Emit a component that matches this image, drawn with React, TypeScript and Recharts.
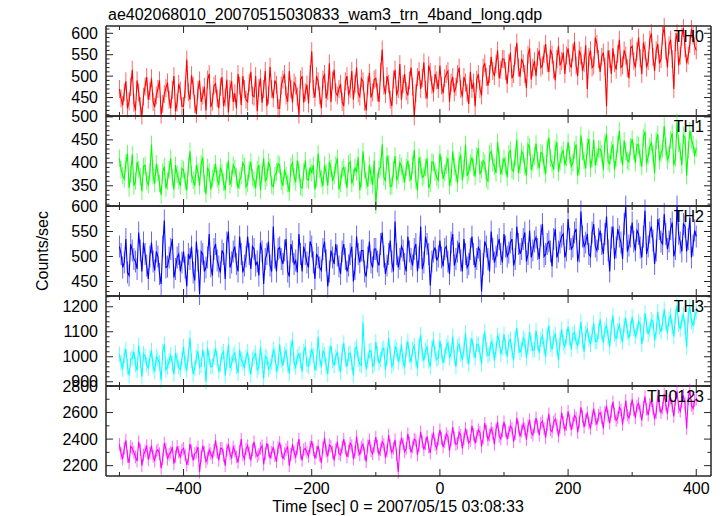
import React from "react";
import { LineChart, Line, XAxis, YAxis, ReferenceLine, ErrorBar } from "recharts";

const W = 723;
const H = 516;
const PLOT_LEFT = 106;
const PLOT_RIGHT = 711;
const PANEL_TOP = 26;
const PANEL_H = 90;
const X_AXIS_H = 30;
const FONT = "'Liberation Sans', Arial, Helvetica, sans-serif";
const FRAME = "#262626";

const TITLE = "ae402068010_20070515030833_wam3_trn_4band_long.qdp";
const X_LABEL = "Time [sec] 0 = 2007/05/15 03:08:33";
const Y_LABEL = "Counts/sec";

// bins start at -500 s, 5 s apart; the *_MID arrays hold the samples 2.5 s later
const TIME = Array.from({ length: 181 }, (_, i) => -500 + 5 * i);
const MID_OFFSET = 2.5;
const X_DOMAIN: [number, number] = [-521, 423];
const X_MAJOR = [-400, -200, 0, 200, 400];
const X_MINOR = [-500, -300, -100, 100, 300];

const TH0 = [
  470, 432, 488, 441, 515, 420, 462, 408, 476, 445,
  495, 428, 470, 410, 458, 485, 425, 500, 438, 466,
  430, 539, 445, 478, 412, 490, 455, 420, 505, 440,
  482, 425, 498, 450, 415, 488, 460, 505, 432, 470,
  440, 510, 452, 418, 495, 470, 430, 522, 448, 480,
  425, 492, 455, 512, 438, 478, 410, 500, 462, 436,
  558, 450, 488, 425, 505, 465, 440, 515, 455, 482,
  430, 500, 470, 445, 520, 452, 488, 420, 508, 462,
  495, 440, 562, 458, 482, 430, 515, 470, 445, 505,
  455, 520, 406, 498, 470, 532, 448, 510, 462, 490,
  525, 460, 505, 440, 498, 475, 520, 452, 485, 435,
  470, 430, 505, 455, 530, 478, 545, 500, 560, 515,
  540, 482, 555, 505, 578, 498, 530, 472, 565, 520,
  500, 560, 525, 575, 510, 550, 490, 570, 535, 505,
  565, 520, 580, 500, 548, 530, 470, 560, 525, 575,
  510, 555, 430, 540, 565, 515, 585, 525, 548, 495,
  570, 520, 590, 505, 560, 535, 600, 512, 575, 540,
  615, 520, 585, 470, 600, 548, 612, 530, 575, 595,
  560,
];
const TH0_MID = [
  448, 462, 425, 475, 438, 490, 430, 452, 498, 465,
  440, 455, 490, 435, 472, 445, 468, 418, 482, 430,
  470, 462, 502, 435, 468, 440, 475, 492, 428, 478,
  448, 475, 430, 492, 470, 440, 425, 478, 500, 445,
  485, 455, 500, 472, 438, 512, 455, 470, 490, 425,
  478, 505, 440, 470, 485, 452, 492, 438, 480, 505,
  470, 500, 455, 492, 448, 530, 490, 462, 470, 440,
  488, 455, 512, 482, 460, 495, 440, 478, 450, 492,
  462, 510, 478, 500, 445, 492, 455, 528, 482, 465,
  490, 475, 460, 512, 495, 468, 525, 480, 505, 470,
  478, 495, 512, 485, 462, 505, 470, 498, 460, 510,
  485, 492, 470, 520, 498, 505, 512, 528, 495, 540,
  512, 530, 495, 548, 520, 540, 505, 550, 492, 535,
  545, 520, 552, 530, 562, 515, 540, 525, 555, 548,
  530, 555, 525, 560, 512, 572, 545, 520, 590, 540,
  545, 522, 560, 505, 530, 552, 520, 560, 518, 565,
  535, 558, 542, 578, 520, 585, 545, 560, 530, 595,
  560, 572, 540, 580, 525, 592, 565, 548, 610, 570,
];

const TH1 = [
  410, 372, 400, 345, 418, 360, 385, 338, 395, 352,
  440, 355, 378, 330, 392, 360, 410, 342, 375, 350,
  385, 340, 425, 362, 395, 350, 412, 332, 380, 365,
  398, 352, 378, 340, 405, 366, 388, 345, 372, 392,
  355, 402, 362, 385, 340, 410, 368, 390, 348, 380,
  395, 350, 372, 336, 400, 358, 385, 345, 405, 362,
  378, 342, 420, 365, 395, 350, 388, 372, 410, 355,
  390, 345, 402, 368, 380, 340, 425, 362, 395, 352,
  308, 385, 440, 360, 398, 350, 415, 372, 392, 358,
  405, 362, 428, 340, 395, 372, 410, 355, 400, 368,
  420, 365, 395, 350, 425, 378, 405, 362, 440, 380,
  412, 370, 432, 385, 400, 360, 425, 392, 445, 375,
  410, 368, 428, 382, 450, 395, 418, 372, 435, 400,
  442, 388, 420, 375, 455, 398, 430, 380, 418, 395,
  445, 392, 428, 372, 460, 405, 435, 388, 450, 412,
  430, 385, 462, 398, 440, 410, 470, 395, 425, 402,
  452, 400, 438, 392, 468, 415, 445, 378, 462, 420,
  480, 405, 450, 395, 488, 425, 460, 372, 470, 440,
  432,
];
const TH1_MID = [
  385, 365, 420, 375, 350, 402, 370, 392, 360, 380,
  372, 398, 355, 380, 345, 385, 368, 395, 362, 388,
  360, 392, 375, 350, 380, 398, 355, 390, 342, 378,
  365, 390, 358, 382, 352, 395, 370, 362, 400, 348,
  385, 368, 345, 395, 378, 360, 402, 352, 372, 398,
  360, 385, 355, 392, 370, 405, 348, 380, 365, 390,
  395, 365, 385, 350, 378, 402, 360, 395, 342, 385,
  372, 398, 355, 390, 412, 365, 385, 348, 372, 405,
  360, 392, 370, 415, 348, 385, 362, 400, 375, 390,
  378, 395, 362, 412, 368, 390, 345, 402, 380, 362,
  395, 378, 410, 368, 392, 355, 418, 388, 372, 400,
  390, 415, 375, 405, 365, 420, 400, 378, 410, 392,
  395, 420, 385, 412, 378, 425, 392, 440, 385, 415,
  405, 422, 395, 432, 410, 385, 445, 402, 428, 412,
  418, 400, 440, 392, 425, 388, 452, 410, 395, 430,
  420, 445, 402, 428, 385, 440, 418, 448, 405, 435,
  425, 440, 410, 455, 398, 435, 420, 448, 405, 430,
  435, 418, 465, 410, 442, 395, 455, 428, 450, 415,
];

const TH2 = [
  520, 478, 535, 462, 512, 490, 548, 470, 505, 455,
  528, 472, 500, 445, 572, 480, 515, 458, 498, 470,
  510, 440, 495, 468, 530, 425, 505, 478, 545, 462,
  525, 480, 512, 455, 550, 488, 520, 470, 505, 482,
  540, 475, 515, 490, 528, 445, 505, 482, 560, 470,
  518, 485, 535, 460, 510, 492, 545, 470, 505, 478,
  520, 455, 498, 472, 530, 440, 512, 485, 502, 465,
  525, 470, 505, 450, 540, 488, 512, 460, 530, 478,
  515, 482, 548, 465, 505, 490, 570, 478, 520, 485,
  540, 495, 515, 470, 560, 488, 525, 442, 510, 492,
  532, 480, 520, 465, 545, 495, 528, 470, 505, 485,
  540, 478, 518, 430, 530, 495, 550, 488, 522, 505,
  545, 500, 528, 482, 560, 505, 535, 490, 552, 512,
  538, 495, 565, 505, 530, 480, 555, 510, 540, 498,
  575, 515, 548, 490, 590, 520, 545, 500, 565, 512,
  552, 505, 580, 470, 560, 518, 540, 495, 600, 522,
  568, 512, 545, 498, 592, 520, 560, 485, 575, 530,
  585, 515, 555, 500, 600, 528, 565, 510, 578, 522,
  540,
];
const TH2_MID = [
  505, 488, 468, 525, 495, 475, 512, 528, 482, 500,
  490, 510, 465, 520, 478, 498, 535, 475, 505, 488,
  478, 505, 520, 452, 492, 510, 470, 498, 480, 515,
  492, 468, 505, 528, 478, 510, 485, 540, 468, 500,
  505, 520, 482, 462, 510, 495, 530, 470, 498, 515,
  495, 512, 470, 525, 485, 468, 505, 520, 488, 530,
  488, 505, 478, 515, 492, 470, 498, 525, 480, 510,
  495, 482, 520, 475, 505, 512, 470, 498, 488, 515,
  490, 525, 500, 482, 532, 470, 505, 495, 512, 470,
  510, 482, 525, 498, 475, 540, 505, 490, 518, 500,
  498, 515, 490, 528, 482, 510, 492, 535, 478, 515,
  505, 495, 512, 485, 520, 470, 515, 500, 535, 488,
  520, 508, 535, 495, 525, 515, 548, 505, 498, 530,
  515, 542, 500, 525, 510, 535, 498, 528, 545, 512,
  535, 520, 555, 510, 540, 528, 505, 548, 520, 535,
  525, 545, 512, 538, 495, 555, 528, 565, 510, 540,
  530, 552, 518, 540, 505, 548, 532, 512, 555, 525,
  545, 530, 568, 515, 545, 510, 560, 535, 498, 552,
];

const TH3 = [
  1010, 950, 1030, 925, 995, 968, 1045, 920, 1002, 955,
  1025, 940, 990, 905, 1050, 960, 1008, 930, 985, 948,
  1040, 945, 1075, 930, 1000, 958, 1028, 900, 995, 962,
  1035, 940, 1010, 925, 1048, 972, 1015, 935, 990, 955,
  1020, 928, 1000, 945, 1038, 912, 995, 960, 1030, 940,
  1050, 965, 1025, 932, 1068, 958, 1012, 940, 1040, 962,
  1030, 945, 1080, 958, 1010, 930, 1045, 965, 1020, 938,
  1055, 960, 1015, 925, 1040, 970, 1138, 950, 1022, 962,
  1060, 975, 1030, 948, 1075, 962, 1040, 980, 1050, 958,
  1062, 978, 1045, 952, 1088, 985, 1040, 960, 1070, 990,
  1065, 975, 1040, 995, 1080, 960, 1050, 988, 1095, 970,
  1072, 995, 1050, 970, 1100, 1005, 1060, 985, 1085, 1010,
  1090, 1000, 1070, 985, 1115, 1018, 1075, 995, 1100, 1025,
  1105, 1015, 1082, 1000, 1125, 1030, 1090, 985, 1110, 1040,
  1120, 1030, 1098, 1045, 1140, 1020, 1110, 1050, 1135, 1060,
  1150, 1055, 1125, 1040, 1165, 1070, 1130, 1060, 1155, 1075,
  1160, 1080, 1140, 1050, 1175, 1090, 1148, 1065, 1180, 1100,
  1190, 1095, 1165, 1080, 1205, 1110, 1170, 1040, 1200, 1125,
  1180,
];
const TH3_MID = [
  975, 1005, 960, 990, 1020, 945, 985, 1012, 968, 995,
  962, 1000, 975, 1020, 948, 985, 972, 1015, 958, 990,
  970, 1010, 985, 955, 1022, 965, 990, 1035, 960, 1000,
  992, 968, 1020, 980, 955, 1005, 962, 1028, 975, 998,
  965, 990, 1015, 960, 985, 1002, 950, 978, 1010, 968,
  988, 1010, 970, 1035, 975, 1000, 985, 1020, 968, 995,
  1005, 975, 995, 1025, 965, 1012, 985, 1000, 970, 1018,
  990, 1010, 975, 1030, 990, 965, 1008, 985, 1025, 970,
  1010, 988, 1035, 995, 1015, 975, 1028, 1000, 982, 1030,
  1005, 1030, 990, 1045, 1010, 1025, 985, 1035, 1012, 995,
  1020, 1005, 1055, 1015, 1000, 1040, 1010, 1030, 1002, 1045,
  1025, 1050, 1015, 1060, 1030, 1012, 1045, 1028, 1065, 1035,
  1040, 1060, 1025, 1075, 1045, 1030, 1065, 1040, 1055, 1030,
  1055, 1070, 1040, 1085, 1050, 1075, 1042, 1068, 1055, 1080,
  1075, 1090, 1060, 1080, 1065, 1095, 1070, 1088, 1062, 1100,
  1095, 1110, 1080, 1118, 1090, 1105, 1085, 1125, 1098, 1112,
  1115, 1102, 1130, 1095, 1125, 1110, 1140, 1105, 1120, 1135,
  1135, 1150, 1120, 1160, 1130, 1145, 1120, 1165, 1140, 1158,
];

const TH0123 = [
  2360, 2250, 2390, 2220, 2330, 2265, 2380, 2200, 2310, 2245,
  2350, 2235, 2320, 2180, 2370, 2250, 2300, 2215, 2345, 2260,
  2330, 2205, 2365, 2240, 2300, 2150, 2350, 2230, 2320, 2260,
  2390, 2240, 2330, 2200, 2360, 2255, 2310, 2225, 2400, 2250,
  2350, 2240, 2380, 2270, 2330, 2210, 2370, 2255, 2340, 2230,
  2375, 2250, 2320, 2200, 2360, 2265, 2400, 2240, 2330, 2270,
  2385, 2255, 2350, 2220, 2410, 2270, 2345, 2240, 2380, 2280,
  2400, 2265, 2370, 2250, 2420, 2280, 2360, 2230, 2395, 2290,
  2415, 2285, 2380, 2260, 2430, 2300, 2395, 2150, 2410, 2305,
  2440, 2300, 2400, 2280, 2455, 2320, 2420, 2295, 2450, 2330,
  2470, 2340, 2440, 2310, 2490, 2360, 2450, 2330, 2480, 2370,
  2500, 2370, 2470, 2345, 2520, 2395, 2480, 2360, 2530, 2400,
  2530, 2400, 2500, 2380, 2560, 2420, 2515, 2395, 2545, 2430,
  2560, 2430, 2535, 2410, 2590, 2455, 2550, 2420, 2600, 2470,
  2610, 2470, 2580, 2450, 2640, 2490, 2600, 2480, 2630, 2510,
  2600, 2480, 2650, 2520, 2680, 2540, 2640, 2510, 2690, 2560,
  2700, 2560, 2670, 2540, 2720, 2580, 2690, 2550, 2730, 2600,
  2740, 2590, 2710, 2570, 2760, 2610, 2730, 2480, 2770, 2630,
  2700,
];
const TH0123_MID = [
  2290, 2330, 2270, 2345, 2300, 2235, 2320, 2280, 2350, 2295,
  2270, 2310, 2290, 2250, 2325, 2285, 2340, 2270, 2300, 2320,
  2280, 2250, 2310, 2290, 2340, 2270, 2300, 2255, 2290, 2315,
  2300, 2330, 2275, 2320, 2290, 2340, 2265, 2310, 2280, 2325,
  2295, 2320, 2305, 2285, 2350, 2290, 2315, 2300, 2275, 2335,
  2310, 2290, 2340, 2285, 2300, 2330, 2295, 2320, 2300, 2340,
  2320, 2300, 2280, 2335, 2310, 2355, 2300, 2320, 2290, 2340,
  2330, 2310, 2350, 2300, 2320, 2340, 2290, 2350, 2310, 2345,
  2345, 2320, 2360, 2310, 2350, 2330, 2280, 2340, 2365, 2330,
  2370, 2340, 2390, 2350, 2380, 2365, 2340, 2395, 2360, 2400,
  2405, 2380, 2420, 2395, 2410, 2370, 2430, 2400, 2425, 2390,
  2435, 2420, 2450, 2410, 2460, 2430, 2445, 2470, 2420, 2460,
  2465, 2450, 2480, 2440, 2490, 2460, 2475, 2500, 2450, 2490,
  2495, 2520, 2480, 2510, 2470, 2530, 2505, 2490, 2525, 2510,
  2540, 2520, 2560, 2530, 2570, 2545, 2520, 2560, 2550, 2580,
  2560, 2600, 2575, 2610, 2590, 2560, 2620, 2595, 2580, 2625,
  2620, 2650, 2610, 2640, 2625, 2660, 2630, 2600, 2650, 2635,
  2660, 2690, 2650, 2700, 2640, 2680, 2665, 2705, 2655, 2690,
];

// typical 1-sigma error bar half-length per band (counts/sec)
const ERRORS = [21, 19, 22, 31, 48];

const range = (a: number, b: number, step: number) => {
  const out: number[] = [];
  for (let v = a; v <= b + 1e-9; v += step) out.push(v);
  return out;
};

const PANELS = [
  { name: "TH0", color: "#ff0000", values: TH0, mid: TH0_MID, domain: [407, 617], major: [450, 500, 550, 600], minor: range(410, 610, 10) },
  { name: "TH1", color: "#00ff00", values: TH1, mid: TH1_MID, domain: [306, 502], major: [350, 400, 450, 500], minor: range(310, 500, 10) },
  { name: "TH2", color: "#0000ff", values: TH2, mid: TH2_MID, domain: [421, 601], major: [450, 500, 550, 600], minor: range(430, 600, 10) },
  { name: "TH3", color: "#00ffff", values: TH3, mid: TH3_MID, domain: [883, 1243], major: [900, 1000, 1100, 1200], minor: range(900, 1240, 20) },
  { name: "TH0123", color: "#ff00ff", values: TH0123, mid: TH0123_MID, domain: [2122, 2800], major: [2200, 2400, 2600, 2800], minor: range(2200, 2800, 100) },
];

const fmt = (v: number) => (v < 0 ? "\u2212" + Math.abs(v) : String(v));

const makeYTick = (major: number[]) => (props: any) => {
  const { y, payload } = props;
  const isMajor = major.includes(payload.value);
  const len = isMajor ? 7 : 3.5;
  return (
    <g>
      <line x1={PLOT_LEFT} x2={PLOT_LEFT + len} y1={y} y2={y} stroke={FRAME} strokeWidth={1} />
      <line x1={PLOT_RIGHT - len} x2={PLOT_RIGHT} y1={y} y2={y} stroke={FRAME} strokeWidth={1} />
      {isMajor && (
        <text x={98} y={y + 5.5} textAnchor="end" fontSize={16} fontFamily={FONT} fill="#000">
          {payload.value}
        </text>
      )}
    </g>
  );
};

const makeXTick = (top: number, bottom: number, showLabels: boolean) => (props: any) => {
  const { x, payload } = props;
  const isMajor = X_MAJOR.includes(payload.value);
  const len = isMajor ? 7 : 4;
  return (
    <g>
      <line x1={x} x2={x} y1={bottom} y2={bottom - len} stroke={FRAME} strokeWidth={1} />
      <line x1={x} x2={x} y1={top} y2={top + len} stroke={FRAME} strokeWidth={1} />
      {showLabels && isMajor && (
        <text x={x} y={494} textAnchor="middle" fontSize={16} fontFamily={FONT} fill="#000">
          {fmt(payload.value)}
        </text>
      )}
    </g>
  );
};

const Panel: React.FC<{ index: number }> = ({ index }) => {
  const p = PANELS[index];
  const top = PANEL_TOP + index * PANEL_H;
  const bottom = top + PANEL_H;
  const data: { t: number; v: number; e: number }[] = [];
  TIME.forEach((t, i) => {
    data.push({ t, v: p.values[i], e: ERRORS[index] });
    if (i < p.mid.length) data.push({ t: t + MID_OFFSET, v: p.mid[i], e: ERRORS[index] });
  });
  const last = index === PANELS.length - 1;
  return (
    <div style={{ position: "absolute", left: 0, top: 0 }}>
      <LineChart
        width={W}
        height={H}
        data={data}
        margin={{ top, right: W - PLOT_RIGHT, bottom: H - bottom - X_AXIS_H, left: 0 }}
      >
        <XAxis
          dataKey="t"
          type="number"
          domain={X_DOMAIN}
          allowDataOverflow
          ticks={[...X_MINOR, ...X_MAJOR].sort((a, b) => a - b)}
          interval={0}
          height={X_AXIS_H}
          tickLine={false}
          axisLine={{ stroke: FRAME, strokeWidth: 1.5 }}
          tick={makeXTick(top, bottom, last)}
        />
        <YAxis
          type="number"
          domain={p.domain}
          allowDataOverflow
          ticks={p.minor}
          interval={0}
          width={PLOT_LEFT}
          tickLine={false}
          axisLine={{ stroke: FRAME, strokeWidth: 1.5 }}
          tick={makeYTick(p.major)}
        />
        <ReferenceLine y={p.domain[1]} stroke={FRAME} strokeWidth={1.5} />
        <ReferenceLine x={X_DOMAIN[1]} stroke={FRAME} strokeWidth={1.5} />
        <Line
          type="linear"
          dataKey="v"
          stroke={p.color}
          strokeWidth={1.1}
          dot={false}
          isAnimationActive={false}
        >
          <ErrorBar
            dataKey="e"
            width={0}
            stroke={p.color}
            strokeOpacity={0.6}
            strokeWidth={1}
            direction="y"
            isAnimationActive={false}
          />
        </Line>
      </LineChart>
    </div>
  );
};

export default function App() {
  return (
    <div
      style={{
        position: "absolute",
        left: 0,
        top: 0,
        width: W,
        height: H,
        background: "#fff",
        fontFamily: FONT,
        overflow: "hidden",
      }}
    >
      {PANELS.map((p, i) => (
        <Panel key={p.name} index={i} />
      ))}
      <svg width={W} height={H} style={{ position: "absolute", left: 0, top: 0, pointerEvents: "none" }}>
        <text x={108} y={20} fontSize={16} fontFamily={FONT} fill="#000">
          {TITLE}
        </text>
        <text
          x={0}
          y={0}
          transform="translate(48 251) rotate(-90)"
          textAnchor="middle"
          fontSize={16}
          fontFamily={FONT}
          fill="#000"
        >
          {Y_LABEL}
        </text>
        <text x={398} y={512} textAnchor="middle" fontSize={16} fontFamily={FONT} fill="#000">
          {X_LABEL}
        </text>
        {PANELS.map((p, i) => (
          <text
            key={p.name}
            x={704}
            y={PANEL_TOP + i * PANEL_H + 16}
            textAnchor="end"
            fontSize={16}
            fontFamily={FONT}
            fill="#000"
          >
            {p.name}
          </text>
        ))}
      </svg>
    </div>
  );
}
